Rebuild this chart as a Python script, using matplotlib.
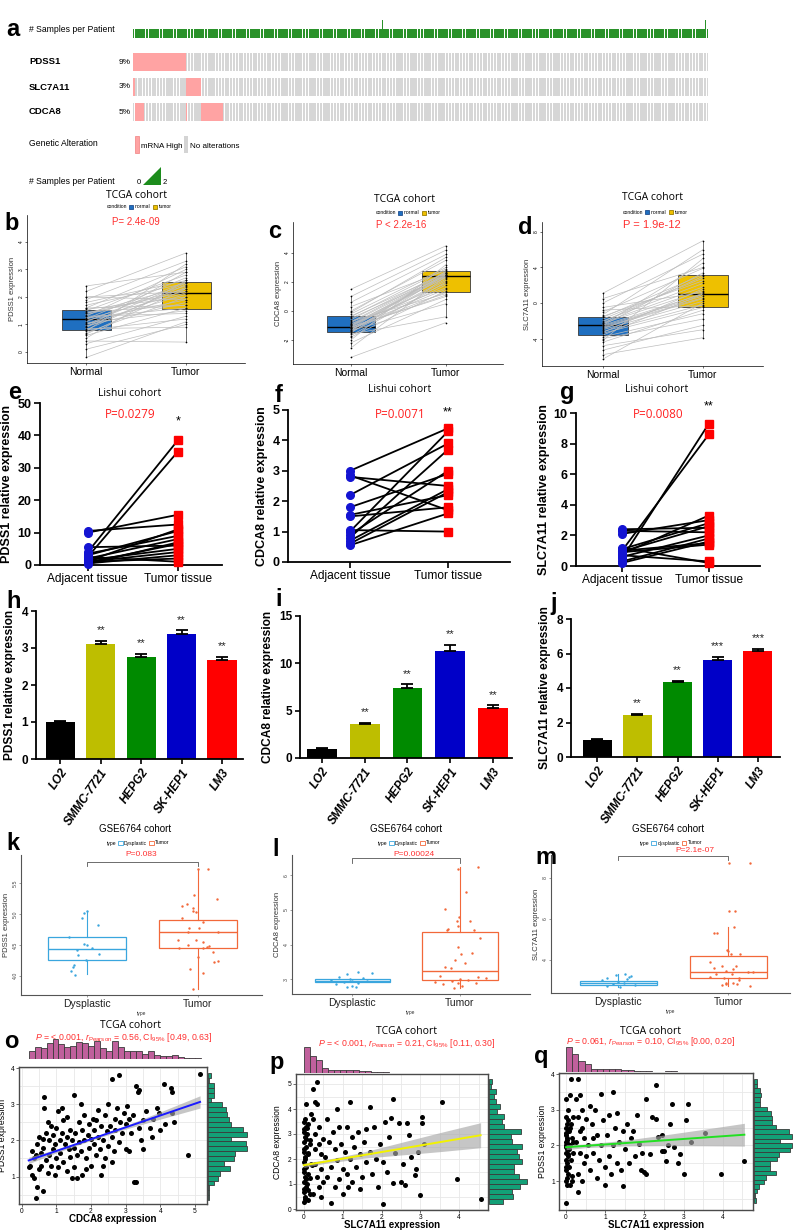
import numpy as np
import matplotlib
matplotlib.use("Agg")
import matplotlib.pyplot as plt
from matplotlib.patches import Patch, Rectangle, Polygon
from matplotlib.lines import Line2D
from matplotlib.ticker import AutoMinorLocator

plt.rcParams["font.family"] = ["Liberation Sans", "DejaVu Sans"]
plt.rcParams["mathtext.fontset"] = "custom"
plt.rcParams["mathtext.rm"] = "Liberation Sans"
plt.rcParams["mathtext.it"] = "Liberation Sans:italic"

NARROW = ["Liberation Sans Narrow", "Liberation Sans", "DejaVu Sans"]
ROUND = ["Open Sans", "Noto Sans", "DejaVu Sans"]

# ---------------- data ----------------
# a: oncoprint (TCGA LIHC)
n_patients = 370
two_sample_patients = [160, 368]
onco_genes = ["PDSS1", "SLC7A11", "CDCA8"]
onco_pct = ["9%", "3%", "5%"]
onco_high = [[(0, 34)], [(0, 1), (34, 44)], [(1, 7), (34, 35), (44, 58)]]

# b-d: TCGA paired normal / tumor
tcga_groups = ["Normal", "Tumor"]
b_normal = [2.4, 2.2, 2.0, 1.9, 1.8, 1.7, 1.6, 1.55, 1.5, 1.45,
            1.4, 1.35, 1.3, 1.25, 1.2, 1.2, 1.15, 1.1, 1.05, 1.0,
            0.95, 0.9, 0.85, 0.8, 0.8, 0.75, 0.7, 0.6, 0.5, 0.4,
            0.3, 0.1, -0.2, 1.4, 1.0, 1.6, 0.9, 1.3, 2.0, 0.65]
b_tumor = [2.9, 3.6, 2.2, 3.3, 2.6, 2.5, 3.1, 2.0, 2.8, 1.7,
           2.4, 2.3, 3.0, 1.6, 2.15, 2.7, 1.9, 2.55, 1.5, 2.1,
           1.8, 2.35, 0.9, 2.45, 1.2, 3.2, 2.0, 1.6, 2.6, 0.36,
           1.3, 1.0, 1.1, 2.2, 2.5, 1.7, 2.9, 1.4, 1.9, 2.3]
c_normal = [1.5, 1.0, 0.6, 0.3, 0.0, -0.2, -0.35, -0.5, -0.6, -0.7,
            -0.8, -0.9, -1.0, -1.05, -1.1, -1.1, -1.15, -1.2, -1.25, -1.3,
            -1.35, -1.4, -1.45, -1.5, -1.6, -1.7, -1.8, -2.0, -2.2, -2.55,
            -3.2, -0.4, -0.9, -1.3, -0.1, -1.0, -1.2, -0.75]
c_tumor = [4.5, 4.2, 3.9, 2.8, 3.5, 3.0, 2.6, 2.4, 2.7, 1.2,
           2.5, 2.3, 1.9, 2.45, 1.0, 2.35, 1.5, 2.6, 1.3, 2.2,
           0.5, 2.75, 1.8, 2.5, -0.4, 2.0, 1.4, 3.2, 0.8, 2.4,
           -0.8, 2.9, 1.6, 2.1, 3.7, 2.55, 1.1, 2.65]
d_normal = [1.1, 0.5, 0.0, -0.5, -1.0, -1.3, -1.6, -1.8, -2.0, -2.2,
            -2.3, -2.4, -2.5, -2.5, -2.6, -2.8, -3.0, -3.2, -3.4, -3.6,
            -3.8, -4.0, -4.4, -4.8, -5.3, -5.8, -6.3, -1.5, -2.7, -3.3,
            -0.8, -2.1, -4.2, -2.9]
d_tumor = [7.0, 4.0, 5.5, 1.2, 3.9, 6.0, 3.2, 2.8, 2.2, 1.8,
           1.4, 4.5, 1.0, 3.4, 0.8, 0.5, 0.2, -0.2, -0.5, 1.0,
           -1.2, -1.8, -0.8, -3.0, -2.5, -3.9, 0.0, 2.5, 0.6, 1.6,
           -0.3, 3.0, 5.0, 1.1]
# box stats: (q1, median, q3, whisker low, whisker high)
b_box = [(0.8, 1.2, 1.53, -0.2, 2.4), (1.56, 2.15, 2.55, 0.36, 3.6)]
c_box = [(-1.45, -1.1, -0.34, -2.55, 1.0), (1.3, 2.4, 2.76, -0.4, 4.5)]
d_box = [(-3.6, -2.5, -1.6, -6.3, 1.1), (-0.5, 1.0, 3.2, -3.9, 7.0)]

# e-g: Lishui cohort paired qPCR
lishui_groups = ["Adjacent tissue", "Tumor tissue"]
e_adj = [4.0, 2.5, 10.5, 10.0, 5.5, 3.5, 3.0, 2.0, 1.5, 1.0, 0.5, 2.5, 0.3, 1.0, 1.2, 0.8]
e_tum = [38.5, 35.0, 12.5, 15.5, 6.0, 9.0, 10.5, 8.0, 5.0, 4.0, 3.0, 1.0, 7.0, 2.0, 11.0, 6.5]
f_adj = [3.0, 2.85, 2.8, 2.2, 1.8, 1.55, 1.5, 1.0, 0.9, 0.8, 0.7, 0.6, 0.55, 1.05]
f_tum = [4.4, 1.7, 2.5, 3.9, 2.9, 2.2, 1.8, 4.3, 3.0, 3.7, 2.4, 2.3, 1.6, 1.0]
g_adj = [0.5, 1.0, 2.4, 2.3, 2.1, 1.1, 1.0, 0.9, 0.8, 0.7, 0.6, 0.3, 0.2, 1.2, 0.95]
g_tum = [9.3, 8.6, 2.5, 2.2, 3.0, 2.8, 1.5, 1.4, 3.3, 0.3, 2.0, 1.8, 1.6, 0.2, 2.6]

# h-j: cell lines
cell_lines = ["LO2", "SMMC-7721", "HEPG2", "SK-HEP1", "LM3"]
bar_colors = ["#000000", "#bebe00", "#008a00", "#0000c8", "#ff0000"]
h_mean = [1.0, 3.1, 2.77, 3.38, 2.68]
h_err = [0.03, 0.1, 0.08, 0.1, 0.08]
h_sig = ["", "**", "**", "**", "**"]
i_mean = [1.0, 3.55, 7.4, 11.35, 5.25]
i_err = [0.1, 0.2, 0.4, 0.6, 0.3]
i_sig = ["", "**", "**", "**", "**"]
j_mean = [1.0, 2.45, 4.33, 5.65, 6.15]
j_err = [0.03, 0.05, 0.07, 0.15, 0.12]
j_sig = ["", "**", "**", "***", "***"]

# k-m: GSE6764 dysplastic vs tumor
gse_groups = ["Dysplastic", "Tumor"]
k_dys_val = [5.05, 5.02, 4.93, 4.82, 4.63, 4.51, 4.5, 4.45, 4.42, 4.35, 4.34, 4.26, 4.18, 4.15, 4.08, 4.02]
k_dys_jit = [0.0, -0.03, -0.04, 0.1, -0.16, -0.03, 0.0, 0.05, -0.09, 0.11, -0.08, -0.01, -0.12, -0.13, -0.14, -0.11]
k_tum_val = [5.72, 5.72, 5.31, 5.24, 5.16, 5.13, 5.1, 5.05, 5.03, 4.94,
             4.87, 4.77, 4.77, 4.71, 4.71, 4.58, 4.58, 4.55, 4.5, 4.48,
             4.45, 4.45, 4.3, 4.38, 4.23, 4.24, 4.11, 4.05, 3.79, 4.47]
k_tum_jit = [0.0, 0.09, -0.03, 0.17, -0.1, -0.14, -0.04, -0.04, -0.02, -0.14,
             0.05, -0.08, 0.01, -0.09, 0.18, -0.18, -0.02, 0.05, -0.09, 0.1,
             -0.17, 0.05, 0.0, 0.14, 0.15, 0.18, -0.07, 0.05, -0.04, 0.08]
l_dys_val = [3.2, 3.18, 3.15, 3.05, 3.02, 3.0, 2.98, 2.96, 2.95, 2.93, 2.9, 2.86, 2.8, 2.78, 2.76]
l_dys_jit = [0.05, 0.18, -0.05, -0.12, 0.1, -0.02, -0.2, 0.14, 0.0, -0.08, 0.05, -0.15, 0.0, -0.05, 0.03]
l_tum_val = [6.25, 6.19, 5.52, 5.03, 4.8, 4.69, 4.67, 4.54, 4.44, 4.43,
             4.43, 4.2, 3.94, 3.77, 3.72, 3.55, 3.46, 3.36, 3.33, 3.08,
             3.05, 3.02, 3.0, 2.97, 2.95, 2.93, 2.9, 2.88, 2.85, 2.8, 2.75]
l_tum_jit = [0.17, -0.02, 0.06, -0.14, -0.01, -0.03, 0.09, -0.02, -0.11, -0.12,
             0.13, 0.19, -0.02, 0.11, 0.01, -0.05, 0.05, -0.14, -0.08, -0.19,
             0.17, 0.24, 0.0, 0.07, -0.07, -0.23, 0.15, -0.02, -0.16, 0.02, -0.06]
m_dys_val = [3.3, 3.25, 3.22, 3.15, 3.1, 3.05, 3.0, 2.95, 2.9, 2.85, 2.8, 2.75, 2.7]
m_dys_jit = [0.06, -0.02, 0.12, 0.1, -0.1, 0.08, -0.15, 0.0, 0.05, -0.05, 0.15, -0.1, 0.02]
m_tum_val = [8.73, 8.75, 6.4, 6.4, 5.6, 5.3, 5.3, 4.5, 4.44, 4.29,
             4.3, 3.9, 3.73, 3.7, 3.6, 3.55, 3.45, 3.4, 3.4, 3.32,
             3.3, 3.15, 3.12, 3.1, 3.0, 2.9, 2.9, 2.85, 2.75, 2.85, 2.8]
m_tum_jit = [0.01, 0.2, 0.01, 0.06, 0.05, -0.13, -0.1, -0.01, 0.0, 0.02,
             0.11, -0.17, -0.06, 0.07, -0.13, 0.04, -0.02, 0.18, 0.22, -0.11,
             0.03, -0.17, -0.04, 0.1, 0.1, -0.02, 0.04, 0.08, 0.2, -0.02, -0.06]
k_box = [(4.26, 4.43, 4.63, 4.03, 5.05), (4.45, 4.71, 4.90, 3.79, 5.72)]
l_box = [(2.93, 2.96, 2.99, 2.92, 3.0), (2.97, 3.23, 4.36, 2.75, 6.25)]
m_box = [(2.78, 2.88, 2.98, 2.7, 3.3), (3.12, 3.41, 4.2, 2.75, 5.6)]

# o-q: TCGA correlations
o_points = np.array([
    (0.2, 1.25), (0.25, 1.3), (0.3, 1.05), (0.35, 1.5), (0.4, 0.4), (0.45, 0.7), (0.4, 1.6), (0.5, 1.2),
    (0.45, 1.9), (0.3, 1.7), (0.35, 0.95), (0.5, 2.1), (0.55, 1.3), (0.6, 0.6), (0.6, 1.8), (0.65, 3.2),
    (0.65, 2.9), (0.7, 2.2), (0.7, 1.45), (0.75, 1.1), (0.8, 2.0), (0.8, 1.6), (0.85, 2.4), (0.85, 1.3),
    (0.9, 1.75), (0.9, 2.15), (0.95, 1.05), (0.95, 1.9), (1.0, 2.35), (1.0, 1.5), (0.6, 2.05), (0.75, 2.5),
    (0.55, 1.65), (1.05, 1.25), (1.05, 2.8), (1.1, 2.0), (1.1, 1.65), (1.15, 2.2), (1.2, 1.4), (1.2, 2.55),
    (1.25, 1.9), (1.3, 1.15), (1.3, 2.1), (1.35, 1.75), (1.4, 2.3), (1.4, 1.55), (1.45, 2.0), (1.5, 3.25),
    (1.5, 1.8), (1.5, 1.25), (1.15, 2.9), (1.3, 2.65), (1.45, 0.95), (1.55, 2.2), (1.6, 1.6), (1.6, 0.95),
    (1.65, 2.5), (1.65, 1.95), (1.7, 1.7), (1.75, 1.05), (1.75, 2.3), (1.8, 2.0), (1.8, 2.7), (1.85, 1.5),
    (1.9, 2.15), (1.95, 1.8), (1.95, 2.45), (2.0, 1.3), (2.0, 2.05), (1.7, 3.0), (1.85, 1.2), (2.05, 2.6),
    (2.1, 1.9), (2.1, 2.3), (2.15, 1.6), (2.2, 2.1), (2.2, 2.85), (2.25, 1.75), (2.3, 1.05), (2.3, 2.4),
    (2.35, 2.0), (2.4, 2.7), (2.4, 1.5), (2.45, 2.25), (2.5, 1.85), (2.5, 3.0), (2.15, 2.55), (2.35, 1.3),
    (2.55, 2.4), (2.6, 3.7), (2.6, 2.1), (2.65, 1.7), (2.7, 2.6), (2.7, 2.3), (2.75, 2.9), (2.8, 3.8),
    (2.8, 1.95), (2.85, 2.5), (2.9, 2.2), (2.95, 2.75), (3.0, 1.75), (3.0, 2.45), (2.6, 1.4), (3.05, 2.95),
    (3.1, 1.7), (3.1, 2.6), (3.15, 2.2), (3.2, 2.7), (3.25, 0.85), (3.3, 0.85), (3.3, 3.5), (3.35, 3.35),
    (3.4, 3.4), (3.4, 2.35), (3.45, 2.0), (3.5, 2.55), (3.5, 1.75), (3.6, 2.8), (3.7, 2.35), (3.8, 2.6),
    (3.9, 2.9), (4.0, 2.3), (4.1, 3.55), (4.15, 2.45), (4.3, 3.45), (4.35, 3.35), (4.35, 2.75), (4.4, 2.5),
    (4.8, 1.6), (5.15, 3.85), (3.75, 2.1), (3.95, 2.75)])
p_points = np.array([
    (0.0, 0.3), (0.03, 0.5), (0.0, 0.7), (0.05, 0.9), (0.0, 1.1), (0.03, 1.3), (0.0, 1.5), (0.05, 1.7),
    (0.0, 1.9), (0.03, 2.1), (0.0, 2.3), (0.05, 2.5), (0.0, 2.7), (0.03, 2.9), (0.0, 3.1), (0.05, 3.3),
    (0.0, 3.5), (0.03, 0.4), (0.0, 0.8), (0.05, 1.2), (0.0, 1.6), (0.03, 2.0), (0.0, 2.4), (0.05, 2.8),
    (0.0, 3.2), (0.03, 3.6), (0.05, 4.2), (0.1, 0.35), (0.15, 0.6), (0.08, 1.0), (0.12, 1.4), (0.18, 1.8),
    (0.1, 2.2), (0.15, 2.6), (0.08, 3.0), (0.12, 3.4), (0.18, 3.8), (0.1, 0.75), (0.15, 1.25), (0.2, 1.75),
    (0.1, 2.25), (0.15, 2.75), (0.08, 3.25), (0.25, 4.8), (0.35, 5.1), (0.3, 4.3), (0.35, 4.2), (0.25, 3.6),
    (0.3, 3.0), (0.4, 2.6), (0.45, 2.2), (0.3, 1.8), (0.35, 1.3), (0.4, 0.9), (0.25, 0.6), (0.45, 1.6),
    (0.5, 2.8), (0.3, 2.4), (0.4, 3.3), (0.5, 1.1), (0.45, 0.5), (0.55, 2.1), (0.6, 1.3), (0.65, 2.7),
    (0.7, 0.25), (0.7, 1.7), (0.75, 3.1), (0.8, 2.4), (0.8, 0.9), (0.85, 1.95), (0.9, 3.3), (0.9, 1.2),
    (0.95, 2.6), (1.0, 1.6), (1.0, 0.6), (0.6, 3.6), (0.85, 4.0), (1.05, 2.3), (1.1, 1.4), (1.1, 3.3),
    (1.15, 0.9), (1.2, 4.3), (1.2, 2.0), (1.25, 1.1), (1.25, 2.9), (1.3, 2.5), (1.35, 1.7), (1.4, 3.1),
    (1.45, 2.2), (1.45, 0.8), (1.5, 1.3), (1.55, 2.7), (1.6, 3.2), (1.6, 1.9), (1.7, 4.1), (1.7, 2.3),
    (1.75, 1.4), (1.8, 3.3), (1.85, 2.0), (1.9, 0.9), (1.95, 2.6), (2.05, 0.2), (2.05, 1.9), (2.1, 3.5),
    (2.2, 2.9), (2.25, 3.65), (2.3, 4.4), (2.3, 1.05), (2.35, 2.25), (2.45, 3.45), (2.5, 1.1), (2.55, 1.8),
    (2.6, 0.95), (2.65, 3.45), (2.7, 2.95), (2.75, 2.1), (2.9, 1.6), (2.95, 2.3), (3.0, 0.55), (3.05, 3.7),
    (3.05, 3.45), (3.1, 2.6), (3.55, 4.3), (3.95, 1.2), (4.55, 0.4), (2.85, 1.35), (2.15, 1.5)])
q_points = np.array([
    (0.0, 0.4), (0.03, 0.9), (0.0, 1.0), (0.05, 1.2), (0.0, 1.4), (0.03, 1.5), (0.0, 1.6), (0.05, 1.7),
    (0.0, 1.8), (0.03, 1.9), (0.0, 2.0), (0.05, 2.05), (0.0, 2.1), (0.03, 2.2), (0.0, 2.3), (0.05, 2.4),
    (0.0, 2.5), (0.03, 2.6), (0.0, 2.8), (0.05, 3.0), (0.0, 3.3), (0.03, 1.1), (0.0, 1.3), (0.05, 1.75),
    (0.0, 1.95), (0.03, 2.15), (0.0, 2.35), (0.05, 2.7), (0.1, 0.9), (0.15, 1.15), (0.08, 1.4), (0.12, 1.6),
    (0.18, 1.8), (0.1, 2.0), (0.15, 2.2), (0.08, 2.4), (0.12, 2.6), (0.18, 2.8), (0.1, 3.4), (0.12, 3.85),
    (0.15, 1.0), (0.08, 1.9), (0.18, 2.1), (0.1, 2.5), (0.3, 0.7), (0.3, 3.85), (0.25, 3.3), (0.35, 3.4),
    (0.3, 2.8), (0.4, 2.5), (0.25, 2.1), (0.35, 1.8), (0.45, 1.5), (0.3, 1.2), (0.4, 1.0), (0.45, 2.2),
    (0.5, 2.75), (0.35, 2.4), (0.5, 1.7), (0.4, 3.0), (0.55, 2.0), (0.6, 1.3), (0.65, 2.6), (0.7, 1.8),
    (0.75, 3.0), (0.8, 2.3), (0.8, 1.1), (0.85, 1.6), (0.9, 3.45), (0.9, 2.0), (0.95, 2.7), (1.0, 1.4),
    (0.6, 3.1), (0.7, 2.2), (1.0, 0.9), (1.05, 2.3), (1.1, 1.7), (1.1, 2.85), (1.15, 1.2), (1.2, 3.5),
    (1.2, 2.0), (1.25, 2.5), (1.3, 1.5), (1.3, 2.9), (1.35, 2.1), (1.4, 1.3), (1.45, 0.85), (1.45, 2.4),
    (1.5, 1.9), (1.55, 2.6), (1.6, 1.5), (1.65, 2.2), (1.7, 2.4), (1.75, 1.7), (1.8, 2.85), (1.85, 2.05),
    (1.9, 1.3), (1.95, 1.8), (2.0, 1.25), (2.05, 3.3), (2.05, 1.2), (2.15, 1.75), (2.2, 2.8), (2.3, 3.7),
    (2.3, 2.75), (2.35, 2.25), (2.45, 2.3), (2.5, 1.85), (2.55, 1.55), (2.6, 2.0), (2.7, 3.15), (2.75, 1.95),
    (2.85, 1.5), (2.9, 1.75), (3.0, 1.2), (3.05, 2.7), (3.1, 3.15), (3.2, 2.1), (3.55, 2.35), (3.95, 1.2),
    (4.55, 1.55), (2.45, 1.85), (2.65, 2.6)])
# regression fits: (intercept, slope)
o_fit = (1.38, 0.327)
p_fit = (1.75, 0.264)
q_fit = (1.95, 0.077)
o_ci_x = [0.2, 1.0, 2.0, 3.0, 4.0, 5.15]
o_ci_half = [0.09, 0.05, 0.035, 0.05, 0.1, 0.17]
p_ci_x = [0.0, 0.5, 1.5, 2.5, 3.5, 4.55]
p_ci_half = [0.09, 0.07, 0.12, 0.25, 0.38, 0.5]
q_ci_x = [0.0, 0.5, 1.5, 2.5, 3.5, 4.55]
q_ci_half = [0.07, 0.05, 0.08, 0.15, 0.23, 0.32]
# marginal histogram counts
o_top_counts = [30, 47, 42, 63, 77, 60, 47, 52, 67, 63, 53, 70, 45, 30, 71, 47, 30, 30, 30, 20, 30, 15, 13, 13, 17, 7, 5, 5, 5]
o_right_counts = [2, 2, 4, 17, 27, 32, 59, 42, 70, 72, 105, 102, 62, 105, 95, 62, 57, 50, 47, 37, 9, 15, 17, 15, 2, 7]
p_top_counts = [80, 50, 40, 15, 10, 8, 10, 10, 10, 5, 5, 4, 2, 2, 1, 1, 1, 1, 1, 1, 1, 1, 1, 1, 1, 1, 1, 1, 1]
p_right_counts = [38, 65, 62, 85, 105, 82, 68, 70, 90, 82, 78, 90, 62, 60, 88, 40, 37, 40, 23, 30, 18, 15, 18, 5, 7]
q_top_counts = [80, 55, 35, 25, 10, 8, 10, 8, 10, 5, 5, 3, 2, 2, 1, 1, 2, 2, 1, 1, 1, 1, 1, 1, 1, 1, 1, 1, 1]
q_right_counts = [5, 3, 8, 13, 28, 33, 63, 45, 44, 66, 70, 103, 108, 73, 108, 98, 63, 51, 50, 48, 38, 18, 16, 20, 16, 8, 8]
o_top_bins = (0.2, 0.172)
o_right_bins = (0.35, 0.135)
p_top_bins = (0.0, 0.157)
p_right_bins = (0.2, 0.2)
q_top_bins = (0.0, 0.157)
q_right_bins = (0.4, 0.128)

# ---------------- figure helpers ----------------
W, H = 795, 1231
fig = plt.figure(figsize=(W / 100, H / 100), dpi=100)
fig.patch.set_facecolor("white")


def box(x0, y0, x1, y1):
    """axes from pixel box (top-left origin)"""
    return fig.add_axes([x0 / W, 1 - y1 / H, (x1 - x0) / W, (y1 - y0) / H])


def ftext(x, y, s, **kw):
    kw.setdefault("ha", "center")
    kw.setdefault("va", "center")
    fig.text(x / W, 1 - y / H, s, **kw)


def panel_label(x, y, s):
    ftext(x, y, s, fontsize=17, fontweight="bold", ha="left")


def tiny_legend(x, y, title, labels, colors, edges):
    handles = [Line2D([], [], linestyle="none", label=title)]
    for lab, c, e in zip(labels, colors, edges):
        handles.append(Patch(facecolor=c, edgecolor=e, linewidth=0.6, label=lab))
    fig.legend(handles=handles, loc="center", bbox_to_anchor=(x / W, 1 - y / H), ncol=3,
               frameon=False, fontsize=3.6, handlelength=0.9, handleheight=0.9,
               handletextpad=0.3, columnspacing=0.4, borderpad=0)


# ---------------- a: oncoprint ----------------
panel_label(6, 30, "a")
ax = box(133, 16, 708, 124)
ax.set_xlim(-0.5, n_patients - 0.5)
ax.set_ylim(124, 16)
ax.axis("off")
idx = np.arange(n_patients)
per_patient = np.ones(n_patients)
per_patient[two_sample_patients] = 2
ax.bar(idx, -9 * per_patient, bottom=38, width=0.85, color="#2a922a", linewidth=0)
row_tops = [53, 78, 103]
for top, ranges in zip(row_tops, onco_high):
    ax.bar(idx, 18, bottom=top, width=0.75, color="#d6d6d6", linewidth=0)
    for s, e in ranges:
        ax.bar(idx[s:e], 18, bottom=top, width=1.0, color="#ffa3a3", linewidth=0)

ftext(29, 30, "# Samples per Patient", fontsize=6.2, ha="left", family=NARROW)
for top, g, pct in zip(row_tops, onco_genes, onco_pct):
    ftext(29, top + 9, g, fontsize=6.8, fontweight="bold", ha="left", family=NARROW)
    ftext(119, top + 9, pct, fontsize=6, ha="left", family=NARROW)
ftext(29, 143, "Genetic Alteration", fontsize=6.2, ha="left", family=NARROW)
ftext(29, 182, "# Samples per Patient", fontsize=6.2, ha="left", family=NARROW)

lg = box(130, 128, 330, 190)
lg.set_xlim(130, 330)
lg.set_ylim(190, 128)
lg.axis("off")
lg.add_patch(Rectangle((135, 136), 4, 17, facecolor="#ffa3a3", edgecolor="#f08080", linewidth=0.5))
lg.text(141, 146, "mRNA High", fontsize=5.8, va="center", family=NARROW)
lg.add_patch(Rectangle((184, 136), 4, 17, facecolor="#d4d4d4", edgecolor="none"))
lg.text(190, 146, "No alterations", fontsize=5.8, va="center", family=NARROW)
lg.text(139, 182, "0", fontsize=5.5, va="center", ha="center", family=NARROW)
lg.add_patch(Polygon([(143, 185), (161, 185), (161, 167)], closed=True, facecolor="#1c8c1c", edgecolor="none"))
lg.text(165, 182, "2", fontsize=5.5, va="center", ha="center", family=NARROW)


# ---------------- b-d: TCGA paired boxplots ----------------
def paired_box(rect, normal, tumor, stats, xlim, ylim, yticks, width, ylabel):
    ax = box(*rect)
    colors = ["#1f6fc0", "#eec000"]
    for pos, st, col in zip([1, 2], stats, colors):
        q1, med, q3, lo, hi = st
        ax.bxp([dict(q1=q1, med=med, q3=q3, whislo=lo, whishi=hi, fliers=[])], positions=[pos],
               widths=width, patch_artist=True, showfliers=False,
               boxprops=dict(facecolor=col, edgecolor="#3a3a3a", linewidth=0.6),
               medianprops=dict(color="black", linewidth=1.0),
               whiskerprops=dict(color="black", linewidth=0.4), capprops=dict(linewidth=0))
    for a, b in zip(normal, tumor):
        ax.plot([1, 2], [a, b], color="#bdbdbd", linewidth=0.5, zorder=3)
    ax.scatter([1] * len(normal), normal, s=1.5, color="black", zorder=4, linewidths=0)
    ax.scatter([2] * len(tumor), tumor, s=1.5, color="black", zorder=4, linewidths=0)
    ax.set_xlim(*xlim)
    ax.set_ylim(*ylim)
    ax.set_yticks(yticks)
    ax.set_yticklabels([str(t) for t in yticks], fontsize=3.5, rotation=90, va="center")
    ax.set_xticks([1, 2])
    ax.set_xticklabels(tcga_groups, fontsize=7.5)
    ax.tick_params(axis="y", length=1.5, width=0.4, pad=1)
    ax.tick_params(axis="x", length=1.5, width=0.4, pad=1.5)
    for s in ["top", "right"]:
        ax.spines[s].set_visible(False)
    for s in ["left", "bottom"]:
        ax.spines[s].set_linewidth(0.5)
    ax.set_ylabel(ylabel, fontsize=5.5, labelpad=1.5, color="#333333")
    return ax


panel_label(4, 223, "b")
paired_box((27, 215, 245, 363), b_normal, b_tumor, b_box, (0.41, 2.59), (-0.4, 4.98), [0, 1, 2, 3, 4], 0.49,
           "PDSS1 expression")
ftext(136, 195, "TCGA cohort", fontsize=7.5, family=ROUND)
tiny_legend(136, 207, "condition", ["normal", "tumor"], ["#1f6fc0", "#eec000"], ["#1f4f90", "#9a7d00"])
ftext(136, 222, "P= 2.4e-09", fontsize=7, color="#ff3030")

panel_label(268, 232, "c")
paired_box((293, 222, 503, 364), c_normal, c_tumor, c_box, (0.39, 2.6), (-3.66, 6.14), [-2, 0, 2, 4], 0.5,
           "CDCA8 expression")
ftext(405, 199, "TCGA cohort", fontsize=7.5, family=ROUND)
tiny_legend(405, 213, "condition", ["normal", "tumor"], ["#1f6fc0", "#eec000"], ["#1f4f90", "#9a7d00"])
ftext(401, 225, "P < 2.2e-16", fontsize=7, color="#ff3030")

panel_label(518, 227, "d")
paired_box((542, 222, 763, 366), d_normal, d_tumor, d_box, (0.39, 2.6), (-7.08, 9.1), [-4, 0, 4, 8], 0.5,
           "SLC7A11 expression")
ftext(652, 198, "TCGA cohort", fontsize=7.5, family=ROUND)
tiny_legend(652, 212, "condition", ["normal", "tumor"], ["#1f6fc0", "#eec000"], ["#1f4f90", "#9a7d00"])
ftext(652, 225, "P = 1.9e-12", fontsize=8, color="#ff3030")


# ---------------- e-g: Lishui paired ----------------
def lishui(rect, adj, tum, xlim, ylim, yticks, ylabel):
    ax = box(*rect)
    for a, t in zip(adj, tum):
        ax.plot([0, 1], [a, t], color="black", linewidth=1.3, zorder=2)
    ax.plot([0] * len(adj), adj, "o", color="#1414d2", markersize=5.5, zorder=3, clip_on=False)
    ax.plot([1] * len(tum), tum, "s", color="#ff0000", markersize=5.5, zorder=3, clip_on=False)
    ax.set_xlim(*xlim)
    ax.set_ylim(*ylim)
    ax.set_yticks(yticks)
    ax.set_yticklabels([str(t) for t in yticks], fontsize=9, fontweight="bold")
    ax.set_xticks([0, 1])
    ax.set_xticklabels(lishui_groups, fontsize=8.6, family=NARROW)
    ax.tick_params(axis="both", length=4, width=1.2, pad=2)
    for s in ["top", "right"]:
        ax.spines[s].set_visible(False)
    for s in ["left", "bottom"]:
        ax.spines[s].set_linewidth(1.3)
    ax.set_ylabel(ylabel, fontsize=9, fontweight="bold", labelpad=3)
    return ax


panel_label(8, 392, "e")
lishui((40, 403, 222, 565), e_adj, e_tum, (-0.53, 1.49), (0, 50), [0, 10, 20, 30, 40, 50], "PDSS1 relative expression")
ftext(130, 394, "Lishui cohort", fontsize=7.5, family=ROUND)
ftext(130, 414, "P=0.0279", fontsize=8.5, color="#ff2020", family=ROUND)
ftext(178, 421, "*", fontsize=9)

panel_label(275, 395, "f")
lishui((288, 410, 510, 562), f_adj, f_tum, (-0.63, 1.63), (0, 5), [0, 1, 2, 3, 4, 5], "CDCA8 relative expression")
ftext(400, 389, "Lishui cohort", fontsize=7.5, family=ROUND)
ftext(400, 415, "P=0.0071", fontsize=8.5, color="#ff2020", family=ROUND)
ftext(448, 412, "**", fontsize=9)

panel_label(560, 393, "g")
lishui((576, 413, 760, 566), g_adj, g_tum, (-0.53, 1.59), (0, 10), [0, 2, 4, 6, 8, 10], "SLC7A11 relative expression")
ftext(657, 389, "Lishui cohort", fontsize=7.5, family=ROUND)
ftext(658, 415, "P=0.0080", fontsize=8.5, color="#ff2020", family=ROUND)
ftext(709, 406, "**", fontsize=9)


# ---------------- h-j: cell line bars ----------------
def bars(rect, means, errs, sig, xlim, ylim, yticks, width, ylabel):
    ax = box(*rect)
    x = np.arange(len(cell_lines))
    ax.bar(x, means, width=width, color=bar_colors, zorder=2)
    ax.errorbar(x, means, yerr=[np.zeros(len(errs)), errs], fmt="none", ecolor="black",
                elinewidth=1.3, capsize=4, capthick=1.3, zorder=3)
    for xi, m, e, s in zip(x, means, errs, sig):
        if s:
            ax.annotate(s, (xi, m + e), xytext=(0, 4), textcoords="offset points",
                        ha="center", va="bottom", fontsize=8, color="#222222")
    ax.set_xlim(*xlim)
    ax.set_ylim(*ylim)
    ax.set_yticks(yticks)
    ax.set_yticklabels([str(t) for t in yticks], fontsize=8.5, fontweight="bold")
    ax.set_xticks(x)
    ax.set_xticklabels(cell_lines, rotation=55, ha="right", rotation_mode="anchor",
                       fontsize=8.5, fontweight="bold", fontstyle="italic")
    ax.tick_params(axis="both", length=3.5, width=1.2, pad=2)
    for s in ["top", "right"]:
        ax.spines[s].set_visible(False)
    for s in ["left", "bottom"]:
        ax.spines[s].set_linewidth(1.3)
    ax.set_ylabel(ylabel, fontsize=8.6, fontweight="bold", labelpad=4)
    return ax


panel_label(6, 601, "h")
bars((36, 611, 243, 759), h_mean, h_err, h_sig, (-0.6, 4.52), (0, 4), [0, 1, 2, 3, 4], 0.72,
     "PDSS1 relative expression")
panel_label(275, 600, "i")
bars((300, 616, 512, 758), i_mean, i_err, i_sig, (-0.51, 4.44), (0, 15), [0, 5, 10, 15], 0.7,
     "CDCA8 relative expression")
panel_label(550, 603, "j")
bars((571, 619, 780, 757), j_mean, j_err, j_sig, (-0.65, 4.55), (0, 8), [0, 2, 4, 6, 8], 0.72,
     "SLC7A11 relative expression")


# ---------------- k-m: GSE6764 boxplots ----------------
def gse_box(rect, dys_val, dys_jit, tum_val, tum_jit, stats, xlim, ylim, yticks, ylabel, bracket_y):
    ax = box(*rect)
    colors = ["#3aa6de", "#f2683a"]
    for pos, st, col in zip([1, 2], stats, colors):
        q1, med, q3, lo, hi = st
        ax.bxp([dict(q1=q1, med=med, q3=q3, whislo=lo, whishi=hi, fliers=[])], positions=[pos],
               widths=0.7, patch_artist=True, showfliers=False,
               boxprops=dict(facecolor="white", edgecolor=col, linewidth=0.9),
               medianprops=dict(color=col, linewidth=1.0),
               whiskerprops=dict(color=col, linewidth=0.8), capprops=dict(linewidth=0))
    ax.scatter(1 + np.array(dys_jit), dys_val, s=3, color=colors[0], zorder=3, linewidths=0)
    ax.scatter(2 + np.array(tum_jit), tum_val, s=3, color=colors[1], zorder=3, linewidths=0)
    ax.plot([1, 1, 2, 2], [bracket_y[0], bracket_y[1], bracket_y[1], bracket_y[0]],
            color="#555555", linewidth=0.6, clip_on=False)
    ax.set_xlim(*xlim)
    ax.set_ylim(*ylim)
    ax.set_yticks(yticks)
    ax.set_yticklabels([str(t) for t in yticks], fontsize=3.8, color="#444444", rotation=90, va="center")
    ax.set_xticks([1, 2])
    ax.set_xticklabels(gse_groups, fontsize=7.5, color="#222222")
    ax.tick_params(axis="y", length=1.5, width=0.4, pad=1, color="#555555")
    ax.tick_params(axis="x", length=1.5, width=0.4, pad=1.5, color="#555555")
    for s in ["top", "right"]:
        ax.spines[s].set_visible(False)
    for s in ["left", "bottom"]:
        ax.spines[s].set_linewidth(0.8)
        ax.spines[s].set_color("#555555")
    ax.set_ylabel(ylabel, fontsize=5.5, labelpad=1.5, color="#333333")
    ax.set_xlabel("type", fontsize=3.5, labelpad=1, color="#333333")
    return ax


gse_legend_colors = ["white", "white"]
gse_legend_edges = ["#3aa6de", "#f2683a"]

panel_label(6, 843, "k")
gse_box((21, 855, 262, 995), k_dys_val, k_dys_jit, k_tum_val, k_tum_jit, k_box, (0.405, 2.58), (3.69, 5.95),
        [4.0, 4.5, 5.0, 5.5], "PDSS1 expression", (5.78, 5.84))
ftext(135, 829, "GSE6764 cohort", fontsize=7, family=NARROW)
tiny_legend(135, 843, "type", ["Dysplastic", "Tumor"], gse_legend_colors, gse_legend_edges)
ftext(141, 855, "P=0.083", fontsize=6, color="#ff3030", family=NARROW)

panel_label(272, 850, "l")
gse_box((292, 855, 530, 994), l_dys_val, l_dys_jit, l_tum_val, l_tum_jit, l_box, (0.44, 2.65), (2.57, 6.59),
        [3, 4, 5, 6], "CDCA8 expression", (6.35, 6.5))
ftext(406, 829, "GSE6764 cohort", fontsize=7, family=NARROW)
tiny_legend(406, 843, "type", ["Dysplastic", "Tumor"], gse_legend_colors, gse_legend_edges)
ftext(414, 854, "P=0.00024", fontsize=6, color="#ff3030", family=NARROW)

panel_label(535, 858, "m")
gse_box((551, 855, 790, 993), m_dys_val, m_dys_jit, m_tum_val, m_tum_jit, m_box, (0.39, 2.56), (2.39, 9.12),
        [4, 6, 8], "SLC7A11 expression", (8.9, 9.05))
ftext(668, 829, "GSE6764 cohort", fontsize=7, family=NARROW)
tiny_legend(668, 843, "type", ["dysplastic", "Tumor"], gse_legend_colors, gse_legend_edges)
ftext(695, 851, "P=2.1e-07", fontsize=6, color="#ff3030", family=NARROW)


# ---------------- o-q: scatter with marginal histograms ----------------
def corr_panel(main_rect, top_rect, right_rect, pts, fit, ci_x, ci_half, line_color,
               top_counts, top_bins, right_counts, right_bins, xlim, ylim, xticks, yticks,
               xlabel, ylabel, label_pos):
    ax = box(*main_rect)
    ax.set_xlim(*xlim)
    ax.set_ylim(*ylim)
    ax.set_xticks(xticks)
    ax.set_yticks(yticks)
    ax.xaxis.set_minor_locator(AutoMinorLocator(2))
    ax.yaxis.set_minor_locator(AutoMinorLocator(2))
    ax.grid(True, which="both", color="#e8e8e8", linewidth=0.6, zorder=0)
    ax.set_axisbelow(True)
    ax.scatter(pts[:, 0], pts[:, 1], s=13, color="black", zorder=3, linewidths=0)
    cx = np.array(ci_x)
    cy = fit[0] + fit[1] * cx
    ch = np.array(ci_half)
    ax.fill_between(cx, cy - ch, cy + ch, color="#a8a8a8", alpha=0.65, linewidth=0, zorder=4)
    ax.plot(cx, cy, color=line_color, linewidth=1.4, zorder=5)
    ax.tick_params(axis="both", which="major", labelsize=4.8, length=2, width=0.5, pad=1, color="#333333")
    ax.tick_params(axis="both", which="minor", length=0)
    for s in ax.spines.values():
        s.set_color("#4a4a4a")
        s.set_linewidth(1.0)
    ax.set_xlabel(xlabel, fontsize=7, fontweight="bold")
    ax.set_ylabel(ylabel, fontsize=6.2)
    ax.xaxis.set_label_coords(0.5, label_pos[0])
    ax.yaxis.set_label_coords(label_pos[1], 0.5)

    top = box(*top_rect)
    edges = top_bins[0] + top_bins[1] * np.arange(len(top_counts))
    top.bar(edges, top_counts, width=top_bins[1], align="edge", color="#c0609c",
            edgecolor="#3a3a3a", linewidth=0.6)
    top.set_xlim(*xlim)
    top.set_ylim(0, max(top_counts) * 1.02)
    top.axis("off")

    right = box(*right_rect)
    edges = right_bins[0] + right_bins[1] * np.arange(len(right_counts))
    right.barh(edges, right_counts, height=right_bins[1], align="edge", color="#13a077",
               edgecolor="#3a3a3a", linewidth=0.6)
    right.set_ylim(*ylim)
    right.set_xlim(0, max(right_counts) * 1.02)
    right.axis("off")


panel_label(4, 1042, "o")
corr_panel((19, 1067, 207, 1204), (19, 1039, 207, 1059), (208, 1067, 248, 1204), o_points, o_fit, o_ci_x, o_ci_half,
           "#1a1aff", o_top_counts, o_top_bins, o_right_counts, o_right_bins, (-0.08, 5.35), (0.24, 4.03),
           [0, 1, 2, 3, 4, 5], [1, 2, 3, 4], "CDCA8 expression", "PDSS1 expression", (-0.075, -0.062))
ftext(130, 1025, "TCGA cohort", fontsize=7.5, family=ROUND)
ftext(124, 1037, r"$\mathit{P}$ = < 0.001, $\mathit{r}_{\mathrm{Pearson}}$ = 0.56, CI$_{95\%}$ [0.49, 0.63]",
      fontsize=6.3, color="#ff3030")

panel_label(269, 1062, "p")
corr_panel((296, 1074, 488, 1210), (296, 1046, 488, 1073), (489, 1074, 528, 1210), p_points, p_fit, p_ci_x, p_ci_half,
           "#f2f200", p_top_counts, p_top_bins, p_right_counts, p_right_bins, (-0.2, 4.74), (-0.04, 5.4),
           [0, 1, 2, 3, 4], [0, 1, 2, 3, 4, 5], "SLC7A11 expression", "CDCA8 expression", (-0.075, -0.075))
ftext(407, 1031, "TCGA cohort", fontsize=7.5, family=ROUND)
ftext(407, 1043, r"$\mathit{P}$ = < 0.001, $\mathit{r}_{\mathrm{Pearson}}$ = 0.21, CI$_{95\%}$ [0.11, 0.30]",
      fontsize=6.3, color="#ff3030")

panel_label(534, 1057, "q")
corr_panel((559, 1073, 753, 1210), (559, 1046, 753, 1072), (754, 1073, 793, 1210), q_points, q_fit, q_ci_x, q_ci_half,
           "#22e022", q_top_counts, q_top_bins, q_right_counts, q_right_bins, (-0.18, 4.77), (0.19, 4.03),
           [0, 1, 2, 3, 4], [1, 2, 3, 4], "SLC7A11 expression", "PDSS1 expression", (-0.075, -0.06))
ftext(651, 1031, "TCGA cohort", fontsize=7.5, family=ROUND)
ftext(651, 1042, r"$\mathit{P}$ = 0.061, $\mathit{r}_{\mathrm{Pearson}}$ = 0.10, CI$_{95\%}$ [0.00, 0.20]",
      fontsize=6.3, color="#ff3030")

fig.savefig("out.png", dpi=100, facecolor="white")
